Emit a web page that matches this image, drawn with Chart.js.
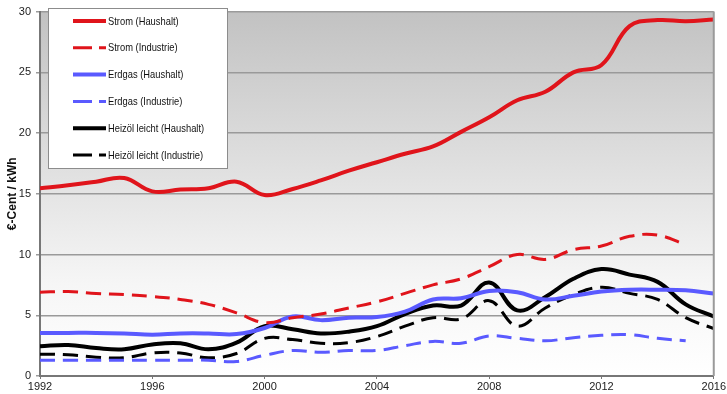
<!DOCTYPE html>
<html>
<head>
<meta charset="utf-8">
<script src="https://cdn.jsdelivr.net/npm/chart.js@4.4.1/dist/chart.umd.min.js"></script>
<style>
html,body{margin:0;padding:0;background:#fff;}
#wrap{width:727px;height:394px;position:relative;}
</style>
</head>
<body>
<div id="wrap"><canvas id="c" width="727" height="394"></canvas></div>
<script>
const years = [1992,1993,1994,1995,1996,1997,1998,1999,2000,2001,2002,2003,2004,2005,2006,2007,2008,2009,2010,2011,2012,2013,2014,2015,2016];
const stromHaushalt = [15.45,15.7,16.0,16.3,15.2,15.35,15.45,16.0,14.9,15.4,16.1,16.9,17.6,18.3,18.9,20.1,21.3,22.7,23.4,25.0,25.6,28.8,29.3,29.2,29.35];
const stromIndustrie = [6.9,6.95,6.8,6.7,6.55,6.3,5.9,5.2,4.4,4.8,5.1,5.6,6.1,6.8,7.5,8.0,9.0,10.0,9.6,10.4,10.7,11.5,11.6,10.8];
const erdgasHaushalt = [3.55,3.55,3.55,3.5,3.4,3.5,3.5,3.45,3.95,4.9,4.6,4.8,4.85,5.3,6.3,6.4,7.0,6.9,6.3,6.6,6.95,7.1,7.1,7.05,6.8];
const erdgasIndustrie = [1.3,1.3,1.3,1.3,1.3,1.3,1.3,1.2,1.7,2.1,1.95,2.1,2.1,2.5,2.85,2.7,3.3,3.1,2.9,3.15,3.35,3.4,3.1,2.9];
const heizoelHaushalt = [2.45,2.55,2.3,2.2,2.6,2.7,2.2,2.75,4.1,3.85,3.5,3.65,4.1,5.1,5.8,5.8,7.7,5.4,6.5,8.0,8.8,8.35,7.75,5.9,4.9];
const heizoelIndustrie = [1.8,1.75,1.55,1.5,1.9,1.9,1.5,1.85,3.1,3.0,2.7,2.75,3.25,4.1,4.8,4.7,6.2,4.1,5.6,6.7,7.3,6.8,6.3,4.8,3.9];
const seriesNames = ['Strom (Haushalt)','Strom (Industrie)','Erdgas (Haushalt)','Erdgas (Industrie)','Heizöl leicht (Haushalt)','Heizöl leicht (Industrie)'];
const yTicks = [0,5,10,15,20,25,30];
const xTicks = [1992,1996,2000,2004,2008,2012,2016];

const RED = '#e0141b', BLUE = '#5a5aff', BLACK = '#000000';
const DASH = [15,8];
function pts(arr){ return arr.map((v,i)=>({x:years[i],y:v})); }
function ds(label, arr, color, dashed){
  return {label, data: pts(arr), borderColor: color, backgroundColor: color,
    borderWidth: dashed ? 3 : 4, borderDash: dashed ? DASH : [], pointRadius: 0,
    tension: 0.4, fill: false, borderCapStyle: 'butt'};
}

const bgPlugin = {
  id: 'bg',
  beforeDraw(chart){
    const {ctx, chartArea:a} = chart;
    const g = ctx.createLinearGradient(0, a.top, 0, a.bottom);
    g.addColorStop(0, '#c2c2c2');
    g.addColorStop(0.75, '#f6f6f6');
    g.addColorStop(1, '#ffffff');
    ctx.save();
    ctx.fillStyle = g;
    ctx.fillRect(a.left, a.top, a.right - a.left, a.bottom - a.top);
    ctx.restore();
  },
  afterDraw(chart){
    const {ctx, chartArea:a} = chart;
    ctx.save();
    ctx.strokeStyle = '#9a9a9a';
    ctx.lineWidth = 2;
    ctx.beginPath();
    ctx.moveTo(a.right, a.top); ctx.lineTo(a.right, a.bottom);
    ctx.stroke();
    // legend box
    const bx = 48, by = 8, bw = 179, bh = 160;
    ctx.fillStyle = '#ffffff';
    ctx.fillRect(bx, by, bw, bh);
    ctx.strokeStyle = '#8c8c8c';
    ctx.lineWidth = 1;
    ctx.strokeRect(bx + 0.5, by + 0.5, bw, bh);
    ctx.font = '11px "Liberation Sans", Arial, sans-serif';
    ctx.textBaseline = 'middle';
    ctx.textAlign = 'left';
    chart.data.datasets.forEach((d, i) => {
      const y = 21 + i * 26.8;
      ctx.strokeStyle = d.borderColor;
      ctx.lineWidth = d.borderWidth;
      ctx.setLineDash(d.borderDash.length ? [19, 7] : []);
      ctx.beginPath();
      ctx.moveTo(73, y); ctx.lineTo(106, y);
      ctx.stroke();
      ctx.setLineDash([]);
      ctx.fillStyle = '#111';
      ctx.save();
      ctx.translate(108, y + 0.5);
      ctx.scale(0.85, 1);
      ctx.fillText(d.label, 0, 0);
      ctx.restore();
    });
    ctx.restore();
  }
};

new Chart(document.getElementById('c'), {
  type: 'line',
  data: {
    datasets: [
      ds(seriesNames[0], stromHaushalt, RED, false),
      ds(seriesNames[1], stromIndustrie, RED, true),
      ds(seriesNames[2], erdgasHaushalt, BLUE, false),
      ds(seriesNames[3], erdgasIndustrie, BLUE, true),
      ds(seriesNames[4], heizoelHaushalt, BLACK, false),
      ds(seriesNames[5], heizoelIndustrie, BLACK, true)
    ]
  },
  options: {
    responsive: false,
    animation: false,
    layout: {padding: {left: 0, top: 5, right: 13, bottom: 0}},
    plugins: {legend: {display: false}, tooltip: {enabled: false}},
    scales: {
      x: {
        type: 'linear', min: 1992, max: 2016,
        afterBuildTicks(s){ s.ticks = xTicks.map(v => ({value: v})); },
        afterFit(s){ s.height = 18; },
        ticks: {callback: v => String(v), color: '#222', padding: 1, maxRotation: 0,
          font: {family: '"Liberation Sans", Arial, sans-serif', size: 11}},
        grid: {drawOnChartArea: false, tickLength: 3, color: '#777'},
        border: {color: '#777', width: 2}
      },
      y: {
        min: 0, max: 30,
        afterBuildTicks(s){ s.ticks = yTicks.map(v => ({value: v})); },
        afterFit(s){ s.width = 40; },
        ticks: {color: '#222', padding: 5,
          font: {family: '"Liberation Sans", Arial, sans-serif', size: 11}},
        grid: {color: '#9a9a9a', lineWidth: 1.5, tickLength: 4},
        border: {color: '#777', width: 2},
        title: {display: true, text: '€-Cent / kWh', color: '#111', padding: {top: 5, bottom: 0},
          font: {family: '"Liberation Sans", Arial, sans-serif', size: 12, weight: 'bold'}}
      }
    }
  },
  plugins: [bgPlugin]
});
</script>
</body>
</html>
